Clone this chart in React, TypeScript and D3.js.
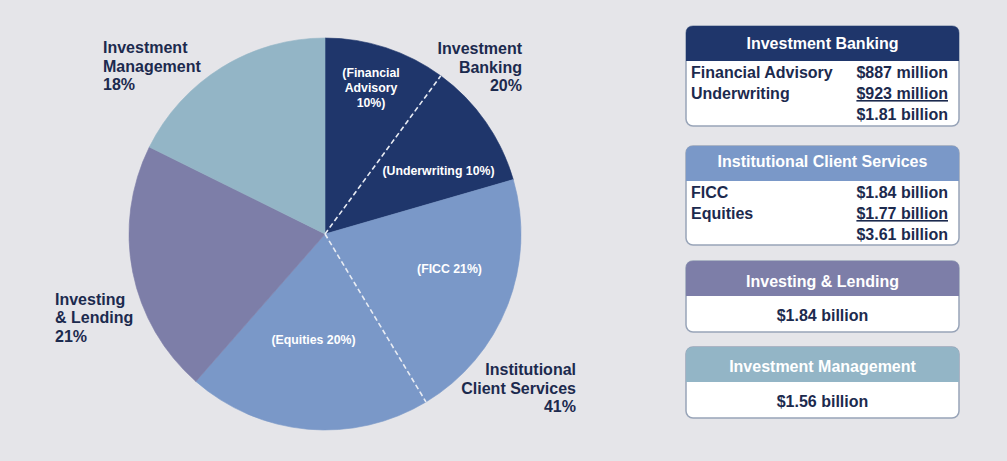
import React from "react";
import * as d3 from "d3";

// ---- data ----
const segments = ["Financial Advisory", "Underwriting", "FICC", "Equities", "Investing & Lending", "Investment Management"];
const segmentDivision = ["IB", "IB", "ICS", "ICS", "IL", "IM"];
const segmentRevenue = [0.887, 0.923, 1.84, 1.77, 1.84, 1.56]; // $ billions
const innerLabels = [["(Financial", "Advisory", "10%)"], ["(Underwriting 10%)"], ["(FICC 21%)"], ["(Equities 20%)"], [], []];

const divisions = ["IB", "ICS", "IL", "IM"];
const divisionNames = ["Investment Banking", "Institutional Client Services", "Investing & Lending", "Investment Management"];
const divisionOuterLabels = [
  ["Investment", "Banking", "20%"],
  ["Institutional", "Client Services", "41%"],
  ["Investing", "& Lending", "21%"],
  ["Investment", "Management", "18%"],
];
const divisionColors = ["#1f366b", "#7a98c8", "#7d7ea8", "#93b5c6"];

const boxRowLabels = [["Financial Advisory", "Underwriting", ""], ["FICC", "Equities", ""], [], []];
const boxRowValues = [
  ["$887 million", "$923 million", "$1.81 billion"],
  ["$1.84 billion", "$1.77 billion", "$3.61 billion"],
  ["$1.84 billion"],
  ["$1.56 billion"],
];

// ---- layout ----
const W = 1007, H = 461;
const cx = 325, cy = 234, R = 196;
const FONT = "'Liberation Sans', Arial, sans-serif";
const NAVY = "#1c2a4e";

const innerPos = [
  { x: 371, y: 77, lh: 15 },
  { x: 438.5, y: 175, lh: 15 },
  { x: 449.5, y: 273, lh: 15 },
  { x: 313.5, y: 344, lh: 15 },
];
const outerPos = [
  { x: 522, y: 54, anchor: "end", lh: 18.5 },
  { x: 576, y: 375, anchor: "end", lh: 18.5 },
  { x: 55, y: 305, anchor: "start", lh: 18.4 },
  { x: 103, y: 53, anchor: "start", lh: 18.5 },
];
const boxLayout = [
  { top: 26, bottom: 126, titleY: 49, rowY: [78, 99, 120] },
  { top: 146, bottom: 245, titleY: 167, rowY: [198, 219, 240] },
  { top: 261, bottom: 332, titleY: 287, rowY: [321] },
  { top: 347, bottom: 418, titleY: 372, rowY: [407] },
];
const boxX0 = 686, boxX1 = 959, headerH = 35, cr = 7;

function topRounded(x0: number, y0: number, x1: number, y1: number, r: number) {
  return `M${x0},${y1}V${y0 + r}Q${x0},${y0} ${x0 + r},${y0}H${x1 - r}Q${x1},${y0} ${x1},${y0 + r}V${y1}Z`;
}

export default function App() {
  const pie = d3.pie<number>().sort(null).value((d) => d);
  const arcs = pie(segmentRevenue);
  const arc = d3.arc<d3.PieArcDatum<number>>().innerRadius(0).outerRadius(R);
  const color = d3.scaleOrdinal<string, string>().domain(divisions).range(divisionColors);

  // dashed sub-division boundaries: where consecutive segments share a division
  const dashed: number[] = [];
  for (let i = 0; i < arcs.length - 1; i++) {
    if (segmentDivision[i] === segmentDivision[i + 1]) dashed.push(arcs[i].endAngle);
  }

  return (
    <svg width={W} height={H} style={{ position: "absolute", left: 0, top: 0, display: "block" }}>
      <rect x={0} y={0} width={W} height={H} fill="#e5e5e9" />
      <g transform={`translate(${cx},${cy})`}>
        {arcs.map((a, i) => (
          <path key={i} d={arc(a) || ""} fill={color(segmentDivision[i])} stroke={color(segmentDivision[i])} strokeWidth={0.6} />
        ))}
        {dashed.map((ang, i) => (
          <line key={i} x1={0} y1={0} x2={R * Math.sin(ang)} y2={-R * Math.cos(ang)} stroke="#e8ecf4" strokeWidth={1.6} strokeDasharray="5,3" />
        ))}
      </g>
      {innerLabels.map((lines, i) =>
        lines.length ? (
          <text key={i} fontFamily={FONT} fontWeight="bold" fontSize={12.3} fill="#ffffff" textAnchor="middle">
            {lines.map((l, j) => (
              <tspan key={j} x={innerPos[i].x} y={innerPos[i].y + j * innerPos[i].lh}>{l}</tspan>
            ))}
          </text>
        ) : null
      )}
      {divisionOuterLabels.map((lines, i) => (
        <text key={i} fontFamily={FONT} fontWeight="bold" fontSize={16} fill={NAVY} textAnchor={outerPos[i].anchor as any}>
          {lines.map((l, j) => (
            <tspan key={j} x={outerPos[i].x} y={outerPos[i].y + j * outerPos[i].lh}>{l}</tspan>
          ))}
        </text>
      ))}
      {divisionNames.map((name, i) => {
        const b = boxLayout[i];
        const labels = boxRowLabels[i];
        const vals = boxRowValues[i];
        const single = labels.length === 0;
        return (
          <g key={i}>
            <rect x={boxX0} y={b.top} width={boxX1 - boxX0} height={b.bottom - b.top} rx={cr} ry={cr} fill="#ffffff" stroke="#98a4b8" strokeWidth={1.5} />
            <path d={topRounded(boxX0, b.top, boxX1, b.top + headerH, cr)} fill={divisionColors[i]} />
            <text x={(boxX0 + boxX1) / 2} y={b.titleY} textAnchor="middle" fontFamily={FONT} fontWeight="bold" fontSize={16} fill="#ffffff">{name}</text>
            {single ? (
              <text x={(boxX0 + boxX1) / 2} y={b.rowY[0]} textAnchor="middle" fontFamily={FONT} fontWeight="bold" fontSize={16} fill={NAVY}>{vals[0]}</text>
            ) : (
              vals.map((v, j) => (
                <g key={j}>
                  {labels[j] ? (
                    <text x={boxX0 + 5} y={b.rowY[j]} fontFamily={FONT} fontWeight="bold" fontSize={16} fill={NAVY}>{labels[j]}</text>
                  ) : null}
                  <text x={boxX1 - 11} y={b.rowY[j]} textAnchor="end" fontFamily={FONT} fontWeight="bold" fontSize={16} fill={NAVY}
                    textDecoration={j === 1 ? "underline" : undefined}>{v}</text>
                </g>
              ))
            )}
          </g>
        );
      })}
    </svg>
  );
}
